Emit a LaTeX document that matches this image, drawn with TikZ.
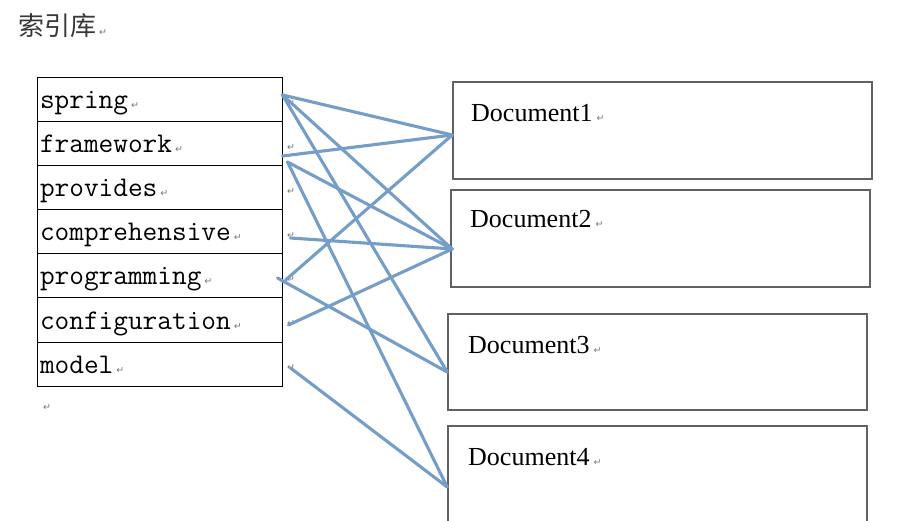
\documentclass[tikz,border=0pt]{standalone}
\usepackage{fontspec}
\setmainfont{Liberation Serif}
\newfontfamily\cjkfont{Noto Sans CJK SC}
\newfontfamily\markfont{DejaVu Sans}
\definecolor{link}{RGB}{116,157,200}
\definecolor{markgray}{RGB}{120,120,120}
% small paragraph-end mark
\newcommand\retmark{{\markfont\fontsize{9.5}{9.5}\selectfont\color{markgray}↵}}
\begin{document}
\begin{tikzpicture}[x=1pt,y=-1pt,
  cell/.style={draw=black, line width=1pt, text width=239pt, align=left,
    inner xsep=3pt, inner ysep=0pt, minimum height=44pt,
    text height=24pt, text depth=6pt, font=\ttfamily\fontsize{28.5}{30}\selectfont},
  docbox/.style={draw=black!62, line width=1.6pt, minimum width=419pt,
    minimum height=97pt, inner sep=0pt},
  doclabel/.style={anchor=base west, inner sep=0pt, font=\fontsize{26}{28}\selectfont},
  rowmark/.style={inner sep=0pt},
  link/.style={draw=link, line width=3.1pt, line cap=round}]
\clip (0,0) rectangle (902,521);
\fill[white] (0,0) rectangle (902,521);

% title
\node[anchor=base west, inner sep=0pt, font=\cjkfont\fontsize{26}{28}\selectfont,
  text=black!78] (title) at (18,36) {索引库\hspace{3pt}\retmark};

% term table
\node[cell] (spring)   at (159.5,100) {spring\hspace{3pt}\retmark};
\node[cell] (framework) at (159.5,144) {framework\hspace{3pt}\retmark};
\node[cell] (provides) at (159.5,188) {provides\hspace{3pt}\retmark};
\node[cell] (compr)    at (159.5,232) {comprehensive\hspace{3pt}\retmark};
\node[cell] (programming) at (159.5,276) {programming\hspace{3pt}\retmark};
\node[cell] (configuration) at (159.5,320) {configuration\hspace{3pt}\retmark};
\node[cell] (model)    at (159.5,364) {model\hspace{3pt}\retmark};

% end-of-row marks
\foreach \r/\y in {1/104,2/148,3/192,4/236,5/280,6/324,7/368}
  \node[rowmark] (rm\r) at (291,\y) {\retmark};
\node[rowmark] (after) at (47,408) {\retmark};

% documents
\node[docbox] (doc1) at (662.5,130.5) {};
\node[docbox] (doc2) at (660.5,238.5) {};
\node[docbox, minimum height=96pt] (doc3) at (657.5,362) {};
\node[docbox] (doc4) at (657.5,474.5) {};
\node[doclabel] (doc1t) at (471,122) {Document1\hspace{4pt}\retmark};
\node[doclabel] (doc2t) at (470,228) {Document2\hspace{4pt}\retmark};
\node[doclabel] (doc3t) at (468,353) {Document3\hspace{4pt}\retmark};
\node[doclabel] (doc4t) at (468,465) {Document4\hspace{4pt}\retmark};

% connector ports
\coordinate (pSpring) at ([shift={(0,-5)}]spring.east);
\coordinate (pFrameA) at ([shift={(0,12)}]framework.east);
\coordinate (pFrameB) at ([shift={(5,18)}]framework.east);
\coordinate (pCompr)  at ([shift={(8,6)}]compr.east);
\coordinate (pProgA)  at ([shift={(3,4)}]programming.east);
\coordinate (pProgB)  at ([shift={(-5,2)}]programming.east);
\coordinate (pConf)   at ([shift={(6,5)}]configuration.east);
\coordinate (pModel)  at ([shift={(8,4)}]model.east);
\coordinate (pDoc1) at ([shift={(0,4.5)}]doc1.west);
\coordinate (pDoc2) at ([shift={(2,10.5)}]doc2.west);
\coordinate (pDoc3) at ([shift={(0,10)}]doc3.west);
\coordinate (pDoc4) at ([shift={(0,12.5)}]doc4.west);

% term -> document links
\draw[link] (pSpring) -- (pDoc1);
\draw[link] (pSpring) -- (pDoc2);
\draw[link] (pSpring) -- (pDoc3);
\draw[link] (pFrameA) -- (pDoc1);
\draw[link] (pFrameB) -- (pDoc2);
\draw[link] (pFrameB) -- (pDoc4);
\draw[link] (pCompr) -- (pDoc2);
\draw[link] (pProgA) -- (pDoc1);
\draw[link] (pProgB) -- (pDoc3);
\draw[link] (pConf) -- (pDoc2);
\draw[link] (pModel) -- (pDoc4);
\end{tikzpicture}
\end{document}
